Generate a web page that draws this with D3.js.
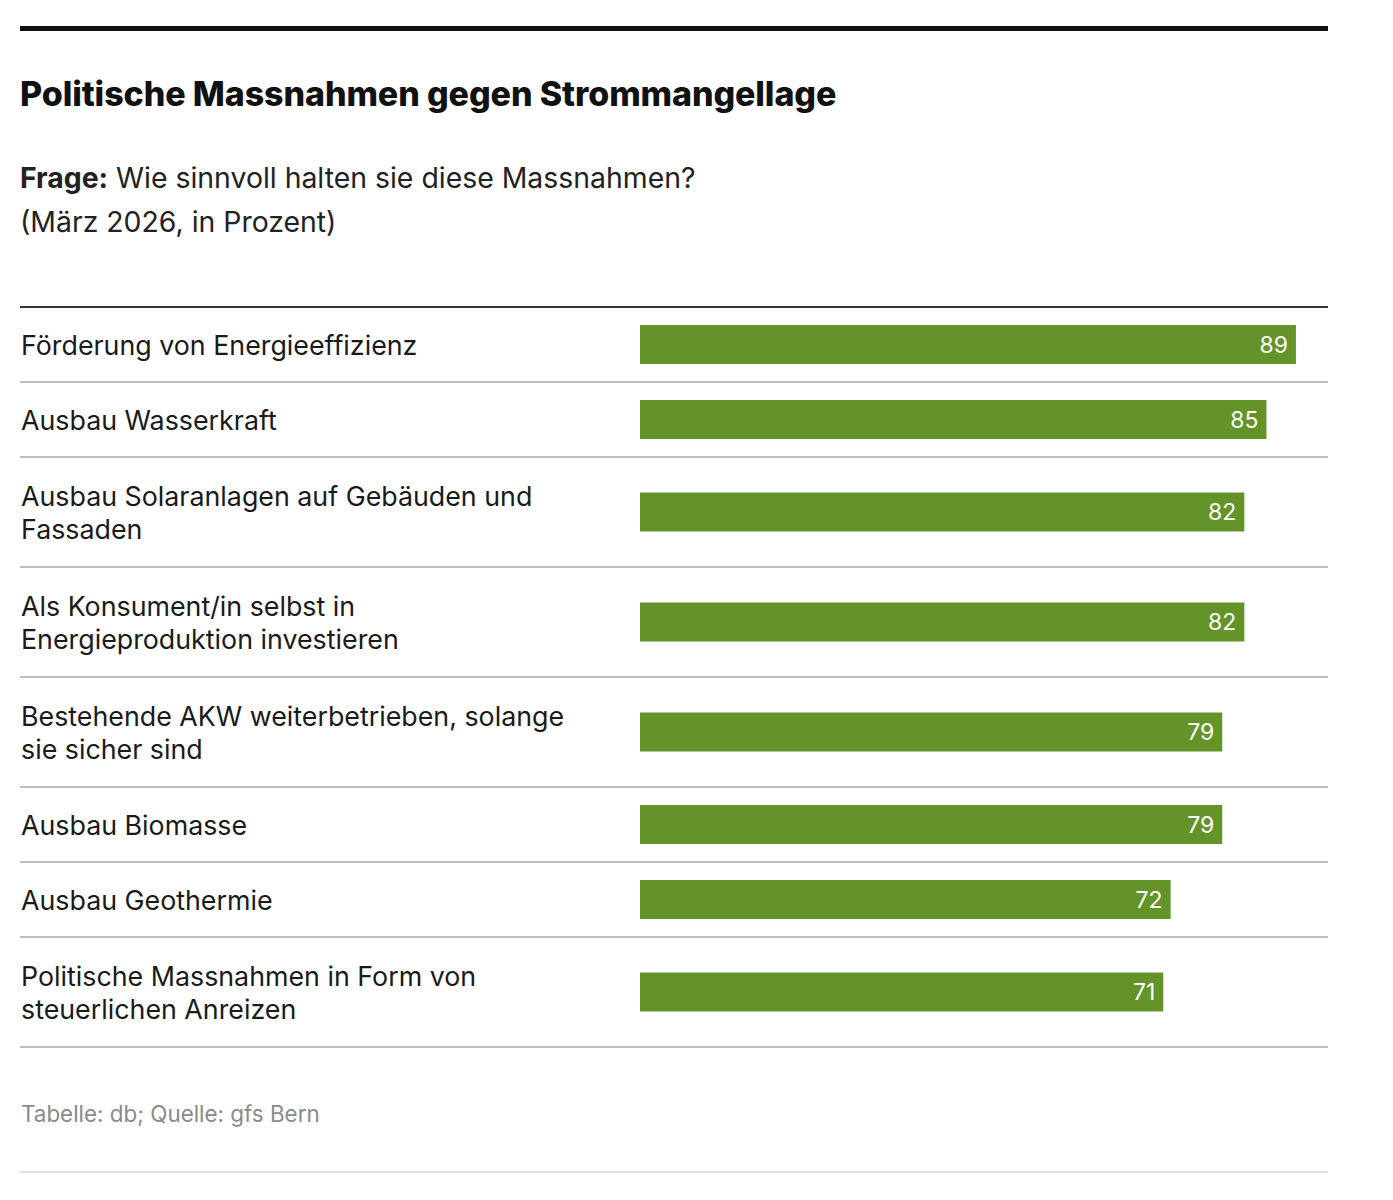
<!DOCTYPE html>
<html>
<head>
<meta charset="utf-8">
<script src="https://cdn.jsdelivr.net/npm/d3@7"></script>
<style>
  body { margin: 0; background: #fff; }
  svg { display: block; font-family: Inter, "Noto Sans", sans-serif; }
</style>
</head>
<body>
<div id="chart"></div>
<script>
// Data
const categories = [
    ['Förderung von Energieeffizienz'],
    ['Ausbau Wasserkraft'],
    ['Ausbau Solaranlagen auf Gebäuden und', 'Fassaden'],
    ['Als Konsument/in selbst in', 'Energieproduktion investieren'],
    ['Bestehende AKW weiterbetrieben, solange', 'sie sicher sind'],
    ['Ausbau Biomasse'],
    ['Ausbau Geothermie'],
    ['Politische Massnahmen in Form von', 'steuerlichen Anreizen']
];
const values = [89, 85, 82, 82, 79, 79, 72, 71];

const title = 'Politische Massnahmen gegen Strommangellage';
const questionLabel = 'Frage:';
const questionText = 'Wie sinnvoll halten sie diese Massnahmen?';
const subtitle = '(März 2026, in Prozent)';
const source = 'Tabelle: db; Quelle: gfs Bern';

// Layout
const width = 1393, height = 1200;
const left = 20, right = 1328;
const tableTop = 307;
const rowBase = 40, rowPerLine = 35, lineH = 33;
const barH = 39;
const barColor = '#64932a';

const svg = d3.select('#chart').append('svg')
    .attr('width', width)
    .attr('height', height);

// Top rule
svg.append('rect')
    .attr('x', left).attr('y', 26)
    .attr('width', right - left).attr('height', 5)
    .attr('fill', '#111');

// Title
svg.append('text')
    .attr('x', left).attr('y', 106)
    .attr('font-size', '34px')
    .attr('font-weight', 800)
    .attr('letter-spacing', '-0.1px')
    .attr('fill', '#111')
    .text(title);

// Question
const q = svg.append('text')
    .attr('x', left).attr('y', 188)
    .attr('font-size', '28.4px')
    .attr('fill', '#222');
q.append('tspan').attr('font-weight', 700).text(questionLabel);
q.append('tspan').text(' ' + questionText);

svg.append('text')
    .attr('x', left).attr('y', 232)
    .attr('font-size', '28.4px')
    .attr('fill', '#222')
    .text(subtitle);

// Table head rule
svg.append('line')
    .attr('x1', left).attr('x2', right)
    .attr('y1', tableTop).attr('y2', tableTop)
    .attr('stroke', '#333').attr('stroke-width', 2);

// Row positions (rows grow with number of label lines)
let rows = [];
let y = tableTop;
categories.forEach((lines, i) => {
    const h = rowBase + rowPerLine * lines.length;
    rows.push({ lines: lines, value: values[i], top: y, h: h });
    y += h;
});

const xScale = d3.scaleLinear()
    .domain([0, 100])
    .range([640, 1377]);

const row = svg.append('g').selectAll('g')
    .data(rows)
    .enter().append('g')
        .attr('transform', d => `translate(0, ${d.top})`);

// Labels
row.append('text')
    .attr('font-size', '26.8px')
    .attr('fill', '#1a1a1a')
    .selectAll('tspan')
    .data(d => d.lines.map((l, i) => ({ text: l, i: i, n: d.lines.length, h: d.h })))
    .enter().append('tspan')
        .attr('x', left + 1)
        .attr('y', d => d.h / 2 + 10 - (d.n - 1) * lineH / 2 + d.i * lineH)
        .text(d => d.text);

// Bars
row.append('rect')
    .attr('x', xScale(0))
    .attr('y', d => d.h / 2 - barH / 2)
    .attr('width', d => xScale(d.value) - xScale(0))
    .attr('height', barH)
    .attr('fill', barColor);

// Values
row.append('text')
    .attr('x', d => xScale(d.value) - 8)
    .attr('y', d => d.h / 2 + 8)
    .attr('text-anchor', 'end')
    .attr('font-size', '23px')
    .attr('fill', '#fff')
    .text(d => d.value);

// Row separators
row.append('line')
    .attr('x1', left).attr('x2', right)
    .attr('y1', d => d.h).attr('y2', d => d.h)
    .attr('stroke', '#bdbdbd').attr('stroke-width', 2);

// Source
svg.append('text')
    .attr('x', left + 1).attr('y', 1122)
    .attr('font-size', '22.4px')
    .attr('fill', '#8a8a8a')
    .text(source);

// Bottom rule
svg.append('line')
    .attr('x1', left).attr('x2', right)
    .attr('y1', 1172).attr('y2', 1172)
    .attr('stroke', '#e0e0e0').attr('stroke-width', 2);
</script>
</body>
</html>
